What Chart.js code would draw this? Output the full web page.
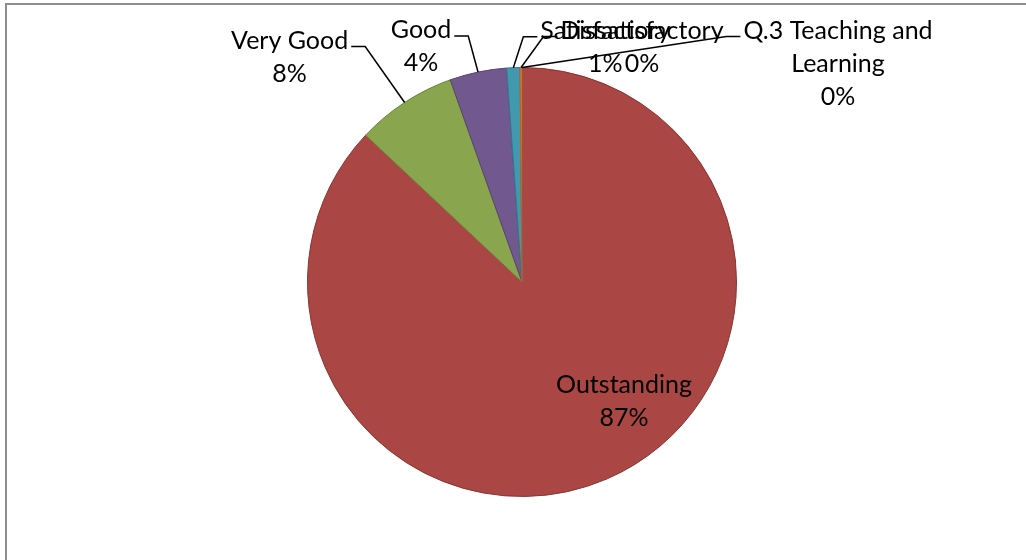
<!DOCTYPE html>
<html>
<head>
<meta charset="utf-8">
<title>Q.3 Teaching and Learning</title>
<script src="https://cdn.jsdelivr.net/npm/chart.js@4.4.1/dist/chart.umd.min.js"></script>
<style>
  html, body { margin: 0; padding: 0; background: #fff; overflow: hidden; }
  #wrap { position: relative; width: 1026px; height: 560px; }
  #frame { position: absolute; left: 5px; top: 3px; width: 1040px; height: 580px;
           border: 2px solid #8e8e8e; box-sizing: border-box; }
  #chart { position: absolute; left: 0; top: 0; }
</style>
</head>
<body>
<div id="wrap">
  <div id="frame"></div>
  <canvas id="chart" width="1026" height="560"></canvas>
</div>
<script>
const categories = ['Q.3 Teaching and Learning', 'Outstanding', 'Very Good', 'Good', 'Satisfactory', 'Dissatisfactory'];
const responses = [0, 609, 53, 30, 7, 1];

const fills = ['#4572A7', '#AA4643', '#89A54E', '#71588F', '#4198AF', '#DB843D'];
const edges = ['#2f4f75', '#8a3432', '#6b823b', '#574370', '#2f7a8e', '#b0652a'];

// where each data label sits, relative to its leader anchor on the rim
// (inside labels are relative to the pie centre)
const labelPlacement = [
    {dx: 316, dy: -37, side: 'right'},
    {dx: 102, dy: 103, inside: true},
    {dx: -115, dy: -62, side: 'left'},
    {dx: -57, dy: -42, side: 'left'},
    {dx: 92, dy: -37, side: 'right'},
    {dx: 121, dy: -37, side: 'right'}
];

const FONT = '25px Lato, Carlito, Calibri, sans-serif';
const LINE_H = 33;

function wrapText(ctx, text, maxWidth) {
    const words = text.split(' ');
    const lines = [];
    let cur = '';
    words.forEach(w => {
        const test = cur ? cur + ' ' + w : w;
        if (ctx.measureText(test).width > maxWidth && cur) {
            lines.push(cur);
            cur = w;
        } else {
            cur = test;
        }
    });
    if (cur) lines.push(cur);
    return lines;
}

const pieLabels = {
    id: 'pieLabels',
    afterDatasetsDraw(chart) {
        const ctx = chart.ctx;
        const meta = chart.getDatasetMeta(0);
        const total = responses.reduce((a, b) => a + b, 0);
        ctx.save();
        ctx.font = FONT;
        ctx.fillStyle = '#000';
        ctx.strokeStyle = '#000';
        ctx.lineWidth = 1.5;
        ctx.textAlign = 'center';
        ctx.textBaseline = 'middle';
        meta.data.forEach((arc, i) => {
            const p = arc.getProps(['x', 'y', 'startAngle', 'endAngle', 'outerRadius'], true);
            const mid = (p.startAngle + p.endAngle) / 2;
            const ax = p.x + Math.cos(mid) * p.outerRadius;
            const ay = p.y + Math.sin(mid) * p.outerRadius;
            const place = labelPlacement[i];
            const pct = Math.round(responses[i] / total * 100) + '%';
            const lines = wrapText(ctx, categories[i], 200).concat([pct]);
            const maxW = Math.max(...lines.map(l => ctx.measureText(l).width));

            let cx, cy;
            if (place.inside) {
                cx = p.x + place.dx;
                cy = p.y + place.dy;
            } else {
                cx = ax + place.dx;
                cy = ay + place.dy;
                const ly = cy + 6;
                const edge = place.side === 'left' ? cx + maxW / 2 + 3 : cx - maxW / 2 - 3;
                const elbow = place.side === 'left' ? edge + 14 : edge - 14;
                ctx.beginPath();
                ctx.moveTo(ax, ay);
                ctx.lineTo(elbow, ly);
                ctx.lineTo(edge, ly);
                ctx.stroke();
            }
            lines.forEach((l, k) => ctx.fillText(l, cx, cy + k * LINE_H));
        });
        ctx.restore();
    }
};

const data = {
    labels: categories,
    datasets: [{
        data: responses,
        backgroundColor: fills,
        borderColor: edges,
        borderWidth: 1
    }]
};

const config = {
    type: 'pie',
    data: data,
    options: {
        responsive: false,
        animation: false,
        events: [],
        layout: {
            padding: {top: 67, bottom: 63, left: 18, right: 0}
        },
        plugins: {
            legend: {display: false},
            tooltip: {enabled: false}
        }
    },
    plugins: [pieLabels]
};

const chart = new Chart(document.getElementById('chart'), config);
</script>
</body>
</html>
